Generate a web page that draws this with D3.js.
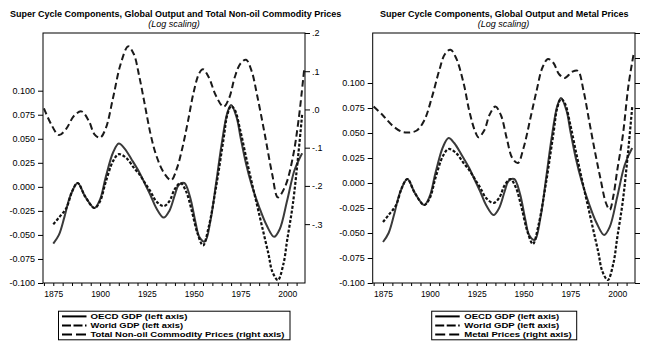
<!DOCTYPE html>
<html><head><meta charset="utf-8">
<script src="https://cdn.jsdelivr.net/npm/d3@7"></script>
<style>body{margin:0;background:#fff}svg{display:block}</style>
</head><body>
<svg id="c" width="647" height="356"></svg>
<script>
// ---------- data ----------
const oecdYears = [1875,1878,1881,1884,1888,1892,1897,1900,1903,1907,1910,1913,1917,1921,1924,1927,1930,1934,1937,1940,1942,1945,1948,1951,1953,1956,1959,1962,1965,1968,1970,1973,1975,1978,1981,1985,1989,1993,1996,2000,2004,2008];
const oecdGdp   = [-0.059,-0.050,-0.031,-0.010,0.004,-0.010,-0.022,-0.013,0.010,0.036,0.045,0.040,0.028,0.015,0.003,-0.009,-0.022,-0.032,-0.025,-0.008,0.002,0.004,-0.010,-0.037,-0.052,-0.057,-0.035,0.004,0.045,0.077,0.085,0.072,0.052,0.024,0.002,-0.021,-0.040,-0.052,-0.044,-0.014,0.018,0.035];

const worldYears = [1875,1878,1882,1885,1888,1892,1897,1900,1903,1907,1910,1914,1918,1921,1924,1927,1930,1934,1937,1940,1943,1946,1949,1952,1955,1958,1962,1966,1968,1970,1972,1975,1978,1981,1984,1987,1990,1992,1995,1998,2000,2003,2006,2008];
const worldGdp   = [-0.039,-0.032,-0.022,-0.005,0.004,-0.010,-0.022,-0.015,0.005,0.027,0.034,0.030,0.020,0.013,0.004,-0.005,-0.015,-0.020,-0.015,-0.002,0.004,-0.005,-0.025,-0.048,-0.061,-0.042,0.000,0.050,0.075,0.084,0.080,0.058,0.031,0.005,-0.020,-0.045,-0.070,-0.088,-0.097,-0.080,-0.055,-0.018,0.035,0.076];

const commYears = [1870,1874,1878,1882,1886,1890,1894,1897,1900,1903,1907,1911,1915,1918,1921,1924,1927,1930,1934,1938,1941,1944,1947,1950,1953,1955,1958,1962,1966,1969,1972,1975,1978,1981,1984,1988,1992,1995,1999,2003,2006,2009];
const commodityPrices = [0.003,-0.040,-0.067,-0.050,-0.017,-0.005,-0.030,-0.065,-0.074,-0.050,0.032,0.119,0.165,0.145,0.085,0.010,-0.065,-0.120,-0.165,-0.185,-0.155,-0.100,-0.030,0.045,0.095,0.105,0.085,0.035,0.007,0.030,0.085,0.120,0.130,0.100,0.035,-0.065,-0.170,-0.230,-0.200,-0.125,-0.030,0.102];

const metalYears = [1870,1875,1880,1885,1889,1893,1897,1901,1905,1908,1911,1914,1918,1921,1924,1926,1929,1932,1935,1938,1941,1944,1947,1950,1954,1957,1960,1963,1966,1969,1972,1976,1979,1982,1985,1988,1991,1994,1996,1998,2000,2003,2006,2009];
const metalPrices = [0.206,0.170,0.130,0.105,0.102,0.110,0.150,0.240,0.350,0.415,0.433,0.400,0.300,0.190,0.110,0.083,0.110,0.175,0.206,0.170,0.080,0.000,-0.020,0.040,0.170,0.270,0.360,0.396,0.380,0.335,0.320,0.345,0.349,0.270,0.150,0.030,-0.080,-0.180,-0.207,-0.150,-0.050,0.090,0.290,0.426];

const leftTicks = [-0.1,-0.075,-0.05,-0.025,0,0.025,0.05,0.075,0.1];
const commTicks = [-0.3,-0.2,-0.1,0,0.1,0.2];
const metalTicks = [-0.5,-0.4,-0.3,-0.2,-0.1,0,0.1,0.2,0.3,0.4,0.5];
const yearTicks = d3.range(1870, 2010, 5);
const yearLabels = [1875,1900,1925,1950,1975,2000];

const titles = ["Super Cycle Components, Global Output and Total Non-oil Commodity Prices",
                "Super Cycle Components, Global Output and Metal Prices"];
const subtitle = "(Log scaling)";
const legendLabels = [["OECD GDP (left axis)","World GDP (left axis)","Total Non-oil Commodity Prices (right axis)"],
                      ["OECD GDP (left axis)","World GDP (left axis)","Metal Prices (right axis)"]];

// ---------- drawing ----------
const svg = d3.select("#c");
const FONT = "'Liberation Sans', Arial, sans-serif";
const NARROW = "'Liberation Sans Narrow', 'Arial Narrow', 'Liberation Sans', Arial, sans-serif";
const plotTop = 33, plotBottom = 283;

function fitText(sel, width, maxSize) {
  sel.attr("font-size", 10);
  const w = sel.node().getComputedTextLength();
  sel.attr("font-size", Math.min(maxSize, 10 * width / w));
  return sel;
}

const styles = {
  oecd: {stroke:"#3a3a3a", dash:null, legendDash:null},
  world:{stroke:"#111", dash:"3,1.8", legendDash:"9,2.5"},
  price:{stroke:"#1a1a1a", dash:"6.5,3.5", legendDash:"10,4"}
};

const panels = [
  {x0:43, x1:305, leftDom:[-0.1,0.16], rightDom:[-0.454,0.2], rightTicks:commTicks, rightLabels:true,
   pYears:commYears, pVals:commodityPrices, title:titles[0], tStart:10, tLen:332, sub:174,
   leg:{x:58.5, w:231.5, tx:90.5, tw:[97,92.5,194]}, labels:legendLabels[0]},
  {x0:372.7, x1:635, leftDom:[-0.1,0.15], rightDom:[-0.5,0.5], rightTicks:metalTicks, rightLabels:false,
   pYears:metalYears, pVals:metalPrices, title:titles[1], tStart:380, tLen:249, sub:503.5,
   leg:{x:431.7, w:145, tx:464.3, tw:[95,95,107.4]}, labels:legendLabels[1]}
];

panels.forEach(p => {
  const g = svg.append("g");
  const x = d3.scaleLinear().domain([1869.5, 2009.5]).range([p.x0, p.x1]);
  const yL = d3.scaleLinear().domain(p.leftDom).range([plotBottom, plotTop]);
  const yR = d3.scaleLinear().domain(p.rightDom).range([plotBottom, plotTop]);

  fitText(g.append("text").attr("x", p.tStart).attr("y", 16.5).text(p.title)
    .attr("font-family", FONT).attr("font-weight","bold"), p.tLen, 11);
  g.append("text").attr("x", p.sub).attr("y", 26.5).text(subtitle)
    .attr("text-anchor","middle").attr("font-family", FONT).attr("font-style","italic").attr("font-size", 9);

  const ax = g.append("g").attr("transform", `translate(${p.x0},0)`)
    .call(d3.axisLeft(yL).tickValues(leftTicks).tickSize(5).tickPadding(3).tickFormat(d => d.toFixed(3)));
  const ar = g.append("g").attr("transform", `translate(${p.x1},0)`)
    .call(d3.axisRight(yR).tickValues(p.rightTicks).tickSize(5).tickPadding(2)
      .tickFormat(d => p.rightLabels ? d.toFixed(1).replace("0.", ".") : ""));
  const ab = g.append("g").attr("transform", `translate(0,${plotBottom})`)
    .call(d3.axisBottom(x).tickValues(yearTicks).tickSize(3).tickPadding(5)
      .tickFormat(d => yearLabels.includes(d) ? String(d) : ""));
  [ax, ar, ab].forEach(a => {
    a.select(".domain").remove();
    a.selectAll("text").attr("font-family", FONT).attr("fill","#000");
    a.selectAll("line").attr("stroke","#000");
  });
  ax.selectAll("text").attr("font-size", 9);
  ar.selectAll("text").attr("font-size", 9);
  ab.selectAll("text").attr("font-size", 8.5);

  g.append("rect").attr("x", p.x0).attr("y", plotTop).attr("width", p.x1 - p.x0).attr("height", plotBottom - plotTop)
    .attr("fill","none").attr("stroke","#000").attr("stroke-width",1);

  const cid = "clip" + Math.round(p.x0);
  svg.append("clipPath").attr("id", cid).append("rect")
    .attr("x", p.x0).attr("y", plotTop).attr("width", p.x1 - p.x0).attr("height", plotBottom - plotTop);
  const plot = g.append("g").attr("clip-path", `url(#${cid})`);

  const line = (ys, vs, sc) => d3.line().curve(d3.curveCatmullRom.alpha(0.5))
      .x((d,i) => x(ys[i])).y(d => sc(d))(vs);

  plot.append("path").attr("d", line(p.pYears, p.pVals, yR)).attr("fill","none")
    .attr("stroke", styles.price.stroke).attr("stroke-width", 2).attr("stroke-dasharray", styles.price.dash);
  plot.append("path").attr("d", line(oecdYears, oecdGdp, yL)).attr("fill","none")
    .attr("stroke", styles.oecd.stroke).attr("stroke-width", 2);
  plot.append("path").attr("d", line(worldYears, worldGdp, yL)).attr("fill","none")
    .attr("stroke", styles.world.stroke).attr("stroke-width", 2.2).attr("stroke-dasharray", styles.world.dash);

  const L = p.leg;
  g.append("rect").attr("x", L.x).attr("y", 311.2).attr("width", L.w).attr("height", 28.6)
    .attr("fill","#fff").attr("stroke","#000").attr("stroke-width",1);
  const rows = [styles.oecd, styles.world, styles.price];
  rows.forEach((s, i) => {
    const cy = 316.4 + i * 9;
    g.append("line").attr("x1", L.x + 3.5).attr("x2", L.x + 28).attr("y1", cy).attr("y2", cy)
      .attr("stroke","#000").attr("stroke-width", 2).attr("stroke-dasharray", s.legendDash);
    g.append("text").attr("x", L.tx).attr("y", cy + 2.8).text(p.labels[i])
      .attr("font-family", NARROW).attr("font-weight","bold").attr("font-size", 7.6)
      .attr("textLength", L.tw[i]).attr("lengthAdjust","spacingAndGlyphs");
  });
});
</script>
</body></html>
